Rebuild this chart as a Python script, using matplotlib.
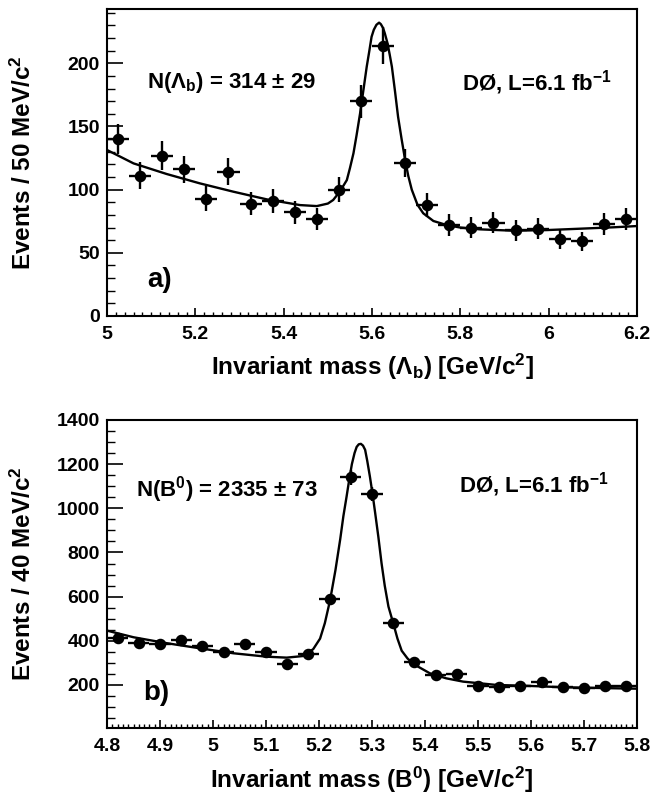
import numpy as np
import matplotlib
matplotlib.use("Agg")
import matplotlib.pyplot as plt
from matplotlib.ticker import MultipleLocator, FuncFormatter

plt.rcParams["font.family"] = ["Liberation Sans", "DejaVu Sans"]
plt.rcParams["font.weight"] = "bold"
plt.rcParams["mathtext.fontset"] = "custom"
plt.rcParams["mathtext.rm"] = "Liberation Sans:bold"
plt.rcParams["mathtext.it"] = "Liberation Sans:bold"
plt.rcParams["mathtext.bf"] = "Liberation Sans:bold"
plt.rcParams["mathtext.sf"] = "Liberation Sans:bold"

# panel a) Lambda_b candidates, 50 MeV bins
lb_centers = [5.025, 5.075, 5.125, 5.175, 5.225, 5.275, 5.325, 5.375,
              5.425, 5.475, 5.525, 5.575, 5.625, 5.675, 5.725, 5.775,
              5.825, 5.875, 5.925, 5.975, 6.025, 6.075, 6.125, 6.175]
lb_counts = [140, 111, 127, 116, 93, 114, 89, 91,
             82, 77, 100, 170, 214, 121, 88, 72,
             70, 74, 68, 69, 61, 59, 73, 77]
# fit curve
lb_fit_x = [5.0, 5.06, 5.135, 5.21, 5.286, 5.362, 5.437, 5.475, 5.50, 5.512,
            5.527, 5.543, 5.55, 5.558, 5.565, 5.573, 5.581, 5.588, 5.594, 5.599,
            5.604, 5.610, 5.616, 5.620, 5.625, 5.629, 5.635, 5.640, 5.645, 5.652,
            5.659, 5.667, 5.675, 5.682, 5.690, 5.703, 5.716, 5.739, 5.769, 5.80,
            5.844, 5.92, 5.995, 6.071, 6.146, 6.2]
lb_fit_y = [131.4, 120.8, 112.4, 105, 98.4, 92.3, 87.8, 87, 89, 91.8,
            98.4, 107.6, 117, 128.8, 143, 160.4, 180, 197.3, 210, 221,
            226.5, 230.5, 232.2, 231, 228, 223.7, 216, 207, 197.3, 178,
            157.7, 140, 123.5, 111, 100, 88, 81.3, 75.2, 72, 70,
            68.6, 67.5, 68, 69.1, 70.2, 71.2]

# panel b) B0 candidates, 40 MeV bins
b0_centers = [4.82, 4.86, 4.90, 4.94, 4.98, 5.02, 5.06, 5.10, 5.14, 5.18,
              5.22, 5.26, 5.30, 5.34, 5.38, 5.42, 5.46, 5.50, 5.54, 5.58,
              5.62, 5.66, 5.70, 5.74, 5.78]
b0_counts = [412, 392, 386, 404, 378, 350, 384, 351, 294, 340,
             588, 1141, 1065, 482, 304, 245, 248, 197, 190, 197,
             214, 190, 185, 197, 196]
b0_fit_x = [4.8, 4.85, 4.913, 4.975, 5.038, 5.101, 5.139, 5.170, 5.189, 5.202,
            5.211, 5.221, 5.231, 5.240, 5.246, 5.252, 5.257, 5.262, 5.267, 5.271,
            5.275, 5.279, 5.283, 5.287, 5.291, 5.296, 5.301, 5.306, 5.312, 5.318,
            5.324, 5.331, 5.340, 5.348, 5.356, 5.367, 5.378, 5.409, 5.44, 5.472,
            5.535, 5.598, 5.661, 5.724, 5.8]
b0_fit_y = [446, 416, 389, 366, 343.6, 328, 323.7, 331, 362, 410,
            480, 585, 720, 860, 965, 1053, 1130, 1200, 1250, 1278,
            1290, 1292, 1284, 1265, 1215, 1144, 1065, 978, 870, 751,
            650, 555, 480, 410, 355, 320, 295, 253, 230, 215,
            200, 195.5, 189.6, 186.4, 183]


def style_axes(ax, xmajor, xminor, ymajor, yminor):
    ax.xaxis.set_major_locator(MultipleLocator(xmajor))
    ax.xaxis.set_minor_locator(MultipleLocator(xminor))
    ax.yaxis.set_major_locator(MultipleLocator(ymajor))
    ax.yaxis.set_minor_locator(MultipleLocator(yminor))
    ax.xaxis.set_major_formatter(FuncFormatter(lambda v, p: f"{v:g}"))
    ax.tick_params(which="both", direction="in", top=False, right=False)
    ax.tick_params(axis="y", which="major", length=11.5, width=1.2, labelsize=14, pad=5)
    ax.tick_params(axis="y", which="minor", length=5.8, width=1.0)
    ax.tick_params(axis="x", which="major", length=5.8, width=1.2, labelsize=14, pad=7)
    ax.tick_params(axis="x", which="minor", length=2.9, width=1.0)
    for sp in ax.spines.values():
        sp.set_linewidth(1.5)


def draw_panel(ax, centers, counts, half_bin, fit_x, fit_y):
    counts = np.asarray(counts, dtype=float)
    ax.plot(fit_x, fit_y, color="black", lw=1.7, zorder=2, solid_joinstyle="round")
    ax.errorbar(centers, counts, xerr=half_bin, yerr=np.sqrt(counts), fmt="o",
                color="black", ms=7.3, elinewidth=1.7, capsize=0, zorder=3)


fig = plt.figure(figsize=(6.53, 8), dpi=100)
ax1 = fig.add_axes([0.1639, 0.605, 0.8116, 0.38375])
ax2 = fig.add_axes([0.1639, 0.09, 0.8116, 0.385])

draw_panel(ax1, lb_centers, lb_counts, 0.025, lb_fit_x, lb_fit_y)
ax1.set_xlim(5.0, 6.2)
ax1.set_ylim(0, 243)
style_axes(ax1, 0.2, 0.02, 50, 10)
ax1.text(0.0755, 0.762, "N(Λ$_{b}$) = 314 ± 29", transform=ax1.transAxes,
         fontsize=16, va="center", ha="left")
ax1.text(0.67, 0.759, "DØ, L=6.1 fb$^{-1}$", transform=ax1.transAxes,
         fontsize=16, va="center", ha="left")
ax1.text(0.0755, 0.117, "a)", transform=ax1.transAxes, fontsize=20,
         va="center", ha="left")
ax1.text(-0.1585, 0.5, "Events / 50 MeV/c$^{2}$", transform=ax1.transAxes,
         rotation=90, fontsize=17.5, va="center", ha="center")
ax1.text(0.5, -0.165, "Invariant mass (Λ$_{b}$) [GeV/c$^{2}$]",
         transform=ax1.transAxes, fontsize=17.5, va="center", ha="center")

draw_panel(ax2, b0_centers, b0_counts, 0.02, b0_fit_x, b0_fit_y)
ax2.set_xlim(4.8, 5.8)
ax2.set_ylim(5, 1400)
style_axes(ax2, 0.1, 0.01, 200, 50)
ax2.text(0.0547, 0.773, "N(B$^{0}$) = 2335 ± 73", transform=ax2.transAxes,
         fontsize=16, va="center", ha="left")
ax2.text(0.664, 0.789, "DØ, L=6.1 fb$^{-1}$", transform=ax2.transAxes,
         fontsize=16, va="center", ha="left")
ax2.text(0.068, 0.114, "b)", transform=ax2.transAxes, fontsize=20,
         va="center", ha="left")
ax2.text(-0.1585, 0.5, "Events / 40 MeV/c$^{2}$", transform=ax2.transAxes,
         rotation=90, fontsize=17.5, va="center", ha="center")
ax2.text(0.5, -0.17, "Invariant mass (B$^{0}$) [GeV/c$^{2}$]",
         transform=ax2.transAxes, fontsize=17.5, va="center", ha="center")

fig.savefig("out.png", dpi=100)
